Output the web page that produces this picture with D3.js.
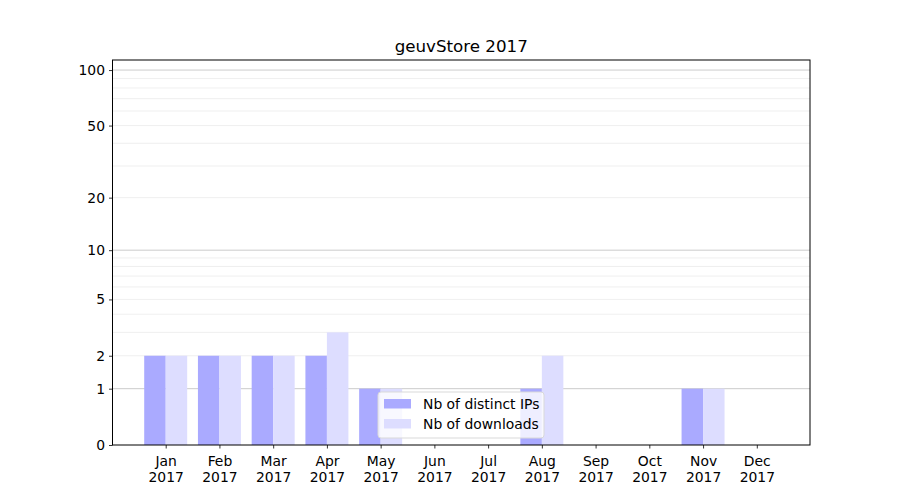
<!DOCTYPE html>
<html><head><meta charset="utf-8">
<script src="https://cdn.jsdelivr.net/npm/d3@7"></script>
<style>body{margin:0;background:#fff;}svg{display:block;font-family:"DejaVu Sans",sans-serif;}</style>
</head><body><svg id="c" width="900" height="500"></svg>
<script>
const months = ["Jan","Feb","Mar","Apr","May","Jun","Jul","Aug","Sep","Oct","Nov","Dec"];
const year = "2017";
const distinctIPs = [2,2,2,2,1,0,0,1,0,0,1,0];
const downloads = [2,2,2,3,1,0,0,2,0,0,1,0];
const yTickValues = [0,1,2,5,10,20,50,100];
const majorGrid = [1,10,100];
const minorGrid = [2,3,4,5,6,7,8,9,20,30,40,50,60,70,80,90];
const title = "geuvStore 2017";
const legendLabels = ["Nb of distinct IPs","Nb of downloads"];
const colors = ["#aaaaff","#ddddff"];

const svg = d3.select("#c");
const L=112.5, R=810, T=60, B=445;
const x = d3.scaleLinear().domain([0.01,12.99]).range([L,R]);
const t = v => Math.log10(1+v);
const yl = d3.scaleLinear().domain([0, t(113.3)]).range([B,T]);
const y = v => yl(t(v));

const g = svg.append("g");
g.selectAll(".mg").data(minorGrid).enter().append("line")
  .attr("x1",L).attr("x2",R).attr("y1",d=>y(d)).attr("y2",d=>y(d))
  .attr("stroke","#ebebeb").attr("stroke-width",0.8);
g.selectAll(".Mg").data(majorGrid).enter().append("line")
  .attr("x1",L).attr("x2",R).attr("y1",d=>y(d)).attr("y2",d=>y(d))
  .attr("stroke","#cccccc").attr("stroke-width",1);

const bw = x(0.4)-x(0);
g.selectAll(".b1").data(distinctIPs).enter().append("rect")
  .attr("x",(d,i)=>x(i+1-0.4)).attr("width",bw)
  .attr("y",d=>y(d)).attr("height",d=>B-y(d)).attr("fill",colors[0]);
g.selectAll(".b2").data(downloads).enter().append("rect")
  .attr("x",(d,i)=>x(i+1)).attr("width",bw)
  .attr("y",d=>y(d)).attr("height",d=>B-y(d)).attr("fill",colors[1]);

const fs = "13.9px";
const yAxis = d3.axisLeft(d3.scaleLinear().domain(yl.domain()).range(yl.range()))
  .tickValues(yTickValues.map(t)).tickFormat((d,i)=>yTickValues[i]).tickSize(3.5).tickPadding(4);
const ya = svg.append("g").attr("transform",`translate(${L},0)`).call(yAxis);
ya.select(".domain").remove();
ya.selectAll("text").attr("font-size",fs).attr("font-family","DejaVu Sans").attr("fill","#000");
ya.selectAll("line").attr("stroke","#000").attr("stroke-width",0.8);

const xAxis = d3.axisBottom(x).tickValues(d3.range(1,13)).tickFormat(()=>"" ).tickSize(3.5);
const xa = svg.append("g").attr("transform",`translate(0,${B})`).call(xAxis);
xa.select(".domain").remove();
xa.selectAll("line").attr("stroke","#000").attr("stroke-width",0.8);
xa.selectAll(".tick").each(function(d,i){
  const tx = d3.select(this).select("text");
  tx.attr("font-size",fs).attr("font-family","DejaVu Sans").attr("fill","#000").attr("dy",null).attr("y",22);
  tx.append("tspan").attr("x",0).attr("y",21).text(months[i]);
  tx.append("tspan").attr("x",0).attr("y",37).text(year);
});

svg.append("rect").attr("x",L).attr("y",T).attr("width",R-L).attr("height",B-T)
  .attr("fill","none").attr("stroke","#000").attr("stroke-width",1);

svg.append("text").attr("x",(L+R)/2).attr("y",T-8).attr("text-anchor","middle")
  .attr("font-size","16.7px").attr("fill","#000").text(title);

const lg = svg.append("g").attr("transform","translate(378,392)");
lg.append("rect").attr("width",166).attr("height",46).attr("rx",3)
  .attr("fill","#fff").attr("fill-opacity",0.8).attr("stroke","#d9d9d9").attr("stroke-width",1);
legendLabels.forEach((lab,i)=>{
  lg.append("rect").attr("x",6).attr("y",7+i*20).attr("width",27).attr("height",9.5).attr("fill",colors[i]);
  lg.append("text").attr("x",45).attr("y",16.5+i*20).attr("font-size",fs).attr("fill","#000").text(lab);
});
</script></body></html>
